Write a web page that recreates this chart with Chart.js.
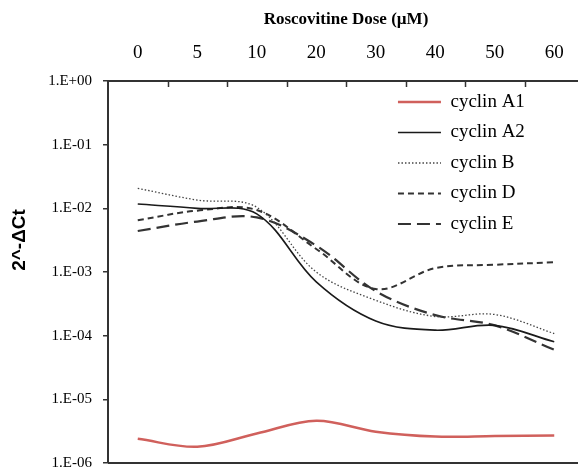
<!DOCTYPE html>
<html>
<head>
<meta charset="utf-8">
<script src="https://cdn.jsdelivr.net/npm/chart.js@4.4.1/dist/chart.umd.min.js"></script>
<style>
  html, body { margin: 0; padding: 0; background: #fff; overflow: hidden; }
  #wrap { width: 590px; height: 471px; }
</style>
</head>
<body>
<div id="wrap"><canvas id="cyclinChart"></canvas></div>
<script>
const doses = ['0', '5', '10', '20', '30', '40', '50', '60'];

const cyclinA1 = [2.4e-6, 1.8e-6, 2.9e-6, 4.6e-6, 3.1e-6, 2.6e-6, 2.65e-6, 2.7e-6];
const cyclinA2 = [0.0117, 0.0100, 0.0082, 7.0e-4, 1.7e-4, 1.22e-4, 1.45e-4, 8.0e-5];
const cyclinB = [0.0206, 0.0135, 0.0104, 1.0e-3, 3.6e-4, 2.0e-4, 2.15e-4, 1.08e-4];
const cyclinD = [0.0065, 0.0092, 0.0094, 2.3e-3, 5.4e-4, 1.15e-3, 1.30e-3, 1.42e-3];
const cyclinE = [0.0044, 0.0062, 0.0072, 2.6e-3, 5.0e-4, 2.1e-4, 1.45e-4, 6.0e-5];

const yTicks = [1e-6, 1e-5, 1e-4, 1e-3, 1e-2, 1e-1, 1];

const axisColor = '#333';
const serif = '"Liberation Serif", "Times New Roman", serif';

// label like Excel's scientific format: 1.E-03
const sciLabel = (v) => {
    const e = Math.round(Math.log10(v));
    const s = e < 0 ? '-' : '+';
    return '1.E' + s + String(Math.abs(e)).padStart(2, '0');
};

// bottom frame line, inward tick marks on the top axis, rotated y title
const framePlugin = {
    id: 'frame',
    afterLayout(chart) {
        // put the legend box into the upper right of the plot
        const area = chart.chartArea;
        chart.legend.left = area.left + (area.right - area.left) * 0.585;
        chart.legend.top = area.top;
        chart.legend.bottom = area.bottom;
    },
    afterDraw(chart) {
        const { ctx, chartArea, scales: { x } } = chart;
        ctx.save();
        ctx.strokeStyle = axisColor;
        ctx.lineWidth = 2;
        ctx.beginPath();
        ctx.moveTo(chartArea.left, chartArea.bottom);
        ctx.lineTo(chartArea.right, chartArea.bottom);
        ctx.stroke();

        ctx.lineWidth = 1.5;
        for (let i = 1; i <= doses.length; i++) {
            const px = Math.round(x.getPixelForValue(i - 0.5)) + 0.5;
            ctx.beginPath();
            ctx.moveTo(px, chartArea.top);
            ctx.lineTo(px, chartArea.top + 6);
            ctx.stroke();
        }

        ctx.translate(20, 240);
        ctx.rotate(-Math.PI / 2);
        ctx.font = 'bold 19px "Liberation Sans", Arial, sans-serif';
        ctx.fillStyle = '#000';
        ctx.textAlign = 'center';
        ctx.textBaseline = 'middle';
        ctx.fillText('2^-ΔCt', 0, 0);
        ctx.restore();
    }
};

const lineDataset = (label, data, color, width, dash) => ({
    label,
    data,
    borderColor: color,
    backgroundColor: color,
    borderWidth: width,
    borderDash: dash,
    pointRadius: 0,
    pointHoverRadius: 0,
    tension: 0.35,
    fill: false
});

const ctx = document.getElementById('cyclinChart').getContext('2d');

new Chart(ctx, {
    type: 'line',
    data: {
        labels: doses,
        datasets: [
            lineDataset('cyclin A1', cyclinA1, '#d0605c', 2.5, []),
            lineDataset('cyclin A2', cyclinA2, '#1a1a1a', 1.6, []),
            lineDataset('cyclin B', cyclinB, '#444', 1.3, [1.5, 2]),
            lineDataset('cyclin D', cyclinD, '#333', 2, [6, 4]),
            lineDataset('cyclin E', cyclinE, '#333', 2.2, [13, 6])
        ]
    },
    options: {
        responsive: true,
        maintainAspectRatio: false,
        animation: false,
        layout: { padding: { right: 6, bottom: 8 } },
        plugins: {
            legend: {
                position: 'chartArea',
                align: 'start',
                labels: {
                    usePointStyle: true,
                    pointStyle: 'line',
                    pointStyleWidth: 43,
                    padding: 11.5,
                    color: '#000',
                    font: { family: serif, size: 19 },
                    // line samples take the dash and width of their dataset
                    generateLabels: (chart) => chart.data.datasets.map((ds, i) => ({
                        text: ds.label,
                        datasetIndex: i,
                        strokeStyle: ds.borderColor,
                        fillStyle: ds.borderColor,
                        lineWidth: ds.borderWidth,
                        lineDash: ds.borderDash,
                        pointStyle: 'line',
                        fontColor: '#000',
                        hidden: false
                    }))
                }
            },
            tooltip: { enabled: false }
        },
        scales: {
            x: {
                type: 'category',
                position: 'top',
                offset: true,
                afterFit: (s) => { s.height = 81; },
                grid: { display: false, drawTicks: false },
                border: { display: true, color: axisColor, width: 2 },
                ticks: {
                    color: '#000',
                    padding: 17,
                    maxRotation: 0,
                    autoSkip: false,
                    font: { family: serif, size: 19 }
                },
                title: {
                    display: true,
                    text: 'Roscovitine Dose (µM)',
                    color: '#000',
                    padding: { top: 9, bottom: 0 },
                    font: { family: serif, size: 17, weight: 'bold' }
                }
            },
            y: {
                type: 'logarithmic',
                position: 'left',
                min: 1e-6,
                max: 1,
                afterFit: (s) => { s.width = 108; s.paddingTop = 0; s.paddingBottom = 0; },
                afterBuildTicks: (s) => { s.ticks = yTicks.map(v => ({ value: v })); },
                grid: {
                    drawOnChartArea: false,
                    tickLength: 5,
                    color: axisColor,
                    lineWidth: 1.5
                },
                border: { display: true, color: axisColor, width: 2 },
                ticks: {
                    color: '#000',
                    padding: 11,
                    font: { family: serif, size: 15, lineHeight: 1 },
                    callback: (v) => sciLabel(v)
                }
            }
        }
    },
    plugins: [framePlugin]
});
</script>
</body>
</html>
